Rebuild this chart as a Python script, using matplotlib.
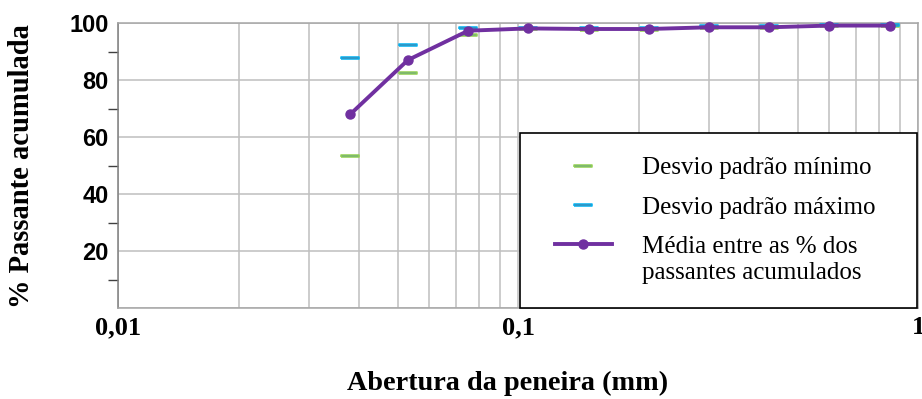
"""Curva granulométrica: média e desvios das % passantes acumuladas."""

import matplotlib

matplotlib.use("Agg")
import matplotlib.pyplot as plt
import numpy as np
from matplotlib.legend_handler import HandlerLine2D
from matplotlib.ticker import FixedLocator, FuncFormatter, NullFormatter

# Data
aberturas = [0.038, 0.053, 0.075, 0.106, 0.15, 0.212, 0.3, 0.425, 0.6, 0.85]
media = [68.0, 87.1, 97.4, 98.2, 98.0, 98.0, 98.6, 98.6, 99.2, 99.2]
desvio_min = [53.4, 82.4, 96.0, 97.9, 97.7, 97.7, 98.3, 98.3, 99.0, 98.9]
desvio_max = [87.7, 92.5, 98.2, 98.5, 98.3, 98.3, 99.0, 99.0, 99.4, 99.5]

x_ticks = [0.01, 0.1, 1]
x_tick_labels = ["0,01", "0,1", "1"]
y_ticks = [0, 20, 40, 60, 80, 100]
y_minor = [10, 30, 50, 70, 90]

labels = [
    "Desvio padrão mínimo",
    "Desvio padrão máximo",
    "Média entre as % dos\npassantes acumulados",
]

SERIF = "Liberation Serif"
SANS = "Liberation Sans"

# flat dash marker (Excel style)
dash = [(-1, -0.13), (1, -0.13), (1, 0.13), (-1, 0.13), (-1, -0.13)]


class RightHandler(HandlerLine2D):
    """Draw the handle in the right part of the handle box, optional y shift."""

    def __init__(self, seg, dy=0.0, **kw):
        super().__init__(**kw)
        self.seg = seg
        self.dy = dy

    def get_xdata(self, legend, xdescent, ydescent, width, height, fontsize):
        x0 = -xdescent + width - self.seg
        return [x0, x0 + self.seg], [x0 + 0.5 * self.seg]

    def create_artists(self, legend, orig_handle, xdescent, ydescent,
                       width, height, fontsize, trans):
        arts = super().create_artists(legend, orig_handle, xdescent, ydescent,
                                      width, height, fontsize, trans)
        for a in arts:
            a.set_ydata(np.asarray(a.get_ydata(), dtype=float) + self.dy)
        return arts


fig = plt.figure(figsize=(9.22, 3.99), dpi=100)
ax = fig.add_axes([0.1283, 0.2281, 0.8674, 0.7135])

(h_min,) = ax.plot(aberturas, desvio_min, linestyle="none", marker=dash,
                   markersize=12.5, markerfacecolor="#4472C4",
                   markeredgecolor="#92D050", markeredgewidth=1.1,
                   clip_on=False, zorder=3)
(h_max,) = ax.plot(aberturas, desvio_max, linestyle="none", marker=dash,
                   markersize=12.5, markerfacecolor="#C0504D",
                   markeredgecolor="#00B0F0", markeredgewidth=1.1,
                   clip_on=False, zorder=3)
(h_med,) = ax.plot(aberturas, media, color="#7030A0", linewidth=2.8,
                   marker="o", markersize=6.5, clip_on=False, zorder=4)

ax.set_xscale("log")
ax.set_xlim(0.01, 1)
ax.set_ylim(0, 100)

ax.xaxis.set_major_locator(FixedLocator(x_ticks))
ax.xaxis.set_major_formatter(FuncFormatter(
    lambda v, p: x_tick_labels[x_ticks.index(v)] if v in x_ticks else ""))
ax.xaxis.set_minor_formatter(NullFormatter())
ax.yaxis.set_major_locator(FixedLocator(y_ticks))
ax.yaxis.set_major_formatter(FuncFormatter(
    lambda v, p: "" if v == 0 else f"{v:.0f}"))
ax.yaxis.set_minor_locator(FixedLocator(y_minor))

ax.tick_params(axis="x", which="both", length=0, pad=6)
ax.tick_params(axis="y", which="major", length=0, pad=7)
ax.tick_params(axis="y", which="minor", length=7, width=1.0,
               color="#404040", direction="out")
for t in ax.get_xticklabels():
    t.set_fontfamily(SERIF)
    t.set_fontweight("bold")
    t.set_fontsize(19)
for t in ax.get_yticklabels():
    t.set_fontfamily(SANS)
    t.set_fontweight("bold")
    t.set_fontsize(17)

ax.grid(True, which="both", axis="x", color="#BFBFBF", linewidth=1.1)
ax.grid(True, which="major", axis="y", color="#BFBFBF", linewidth=1.1)
ax.set_axisbelow(True)
for side, sp in ax.spines.items():
    sp.set_color("#A6A6A6")
    sp.set_linewidth(1.1)
ax.spines["left"].set_color("#7F7F7F")

ax.set_xlabel("Abertura da peneira (mm)", fontfamily=SERIF,
              fontweight="bold", fontsize=20.3)
ax.xaxis.set_label_coords(0.487, -0.222)
ax.set_ylabel("% Passante acumulada", fontfamily=SERIF,
              fontweight="bold", fontsize=20.6)
ax.yaxis.set_label_coords(-0.104, 0.497)

fs = 18
seg = 41.0
leg = ax.legend(
    [h_min, h_max, h_med], labels,
    loc="lower left", bbox_to_anchor=(0.5023, 0.0, 0.4964, 0.1),
    mode="expand", borderaxespad=0.0, fancybox=False,
    edgecolor="black", framealpha=1.0, borderpad=0.95,
    handlelength=2.72, handletextpad=1.2, labelspacing=0.68,
    prop={"family": SERIF, "size": fs},
    handler_map={
        h_min: RightHandler(seg, numpoints=1),
        h_max: RightHandler(seg, numpoints=1),
        h_med: RightHandler(seg, dy=0.62 * fs, numpoints=1),
    },
)
leg.get_frame().set_linewidth(1.2)
for t in leg.get_texts():
    t.set_linespacing(1.25)

fig.savefig("out.png", dpi=100)
